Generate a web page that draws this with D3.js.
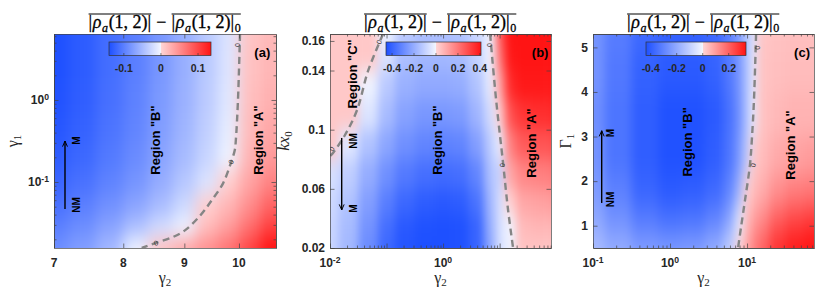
<!DOCTYPE html>
<html><head><meta charset="utf-8">
<script src="https://cdn.jsdelivr.net/npm/d3@7"></script>
<style>body{margin:0;background:#fff}svg{display:block}</style>
</head><body>
<svg id="chart" width="830" height="293"></svg>
<script>
// ---------------- DATA ----------------
// Panel (a): gamma2 (x, log) vs gamma1 (y, log)
const aCols = [7.0, 7.4, 7.8, 8.2, 8.6, 9.0, 9.4, 9.8, 10.2, 10.6];
const aRows = [6.4, 2.5, 1.0, 0.45, 0.2, 0.1, 0.05, 0.028, 0.0157];
const aZ = [
  [-0.140,-0.130,-0.115,-0.100,-0.080,-0.060,-0.038,-0.015,0.012,0.020],
  [-0.140,-0.130,-0.115,-0.100,-0.080,-0.060,-0.038,-0.014,0.013,0.022],
  [-0.138,-0.128,-0.113,-0.098,-0.078,-0.058,-0.036,-0.012,0.015,0.026],
  [-0.135,-0.125,-0.110,-0.095,-0.075,-0.055,-0.033,-0.008,0.018,0.032],
  [-0.130,-0.120,-0.105,-0.090,-0.070,-0.050,-0.028,-0.003,0.024,0.042],
  [-0.122,-0.112,-0.097,-0.082,-0.062,-0.040,-0.016,0.004,0.034,0.058],
  [-0.112,-0.100,-0.085,-0.068,-0.048,-0.024,0.004,0.022,0.050,0.080],
  [-0.100,-0.088,-0.070,-0.045,-0.022,-0.004,0.018,0.040,0.072,0.105],
  [-0.088,-0.074,-0.052,-0.004,0.012,0.030,0.048,0.068,0.100,0.135]
];
const aContour = [[10.02,6.38],[9.98,0.972],[9.94,0.325],[9.92,0.246],[9.85,0.175],[9.70,0.097],[9.49,0.060],[9.28,0.039],[9.01,0.0257],[8.79,0.0211],[8.54,0.0183],[8.29,0.01567]];
const aContourLabels = [[9.98,4.69,-90],[9.85,0.175,-65],[8.52,0.018,-20]];
const aCbarDomain = [-0.14, 0.135];
const aCbarTicks = [-0.1, 0, 0.1];
const aXTicks = [7, 8, 9, 10];
const aYTicks = [0.1, 1];

// Panel (b): gamma2 (x, log) vs k x0 (y, linear)
const bCols = [0.01,0.02,0.05,0.1,0.2,0.5,1,2,4,7,10,15,25,50,81];
const bRows = [0.1647,0.15,0.13,0.11,0.09,0.07,0.05,0.035,0.02];
const bZ = [
  [0.03,0.03,0.03,-0.015,-0.12,-0.15,-0.15,-0.14,-0.09,-0.005,0.26,0.41,0.41,0.41,0.41],
  [0.03,0.03,0.03,-0.05,-0.15,-0.17,-0.17,-0.16,-0.10,-0.01,0.20,0.40,0.41,0.41,0.41],
  [0.03,0.03,-0.01,-0.12,-0.19,-0.21,-0.21,-0.20,-0.14,-0.03,0.10,0.36,0.40,0.40,0.40],
  [0.03,0.03,-0.05,-0.16,-0.23,-0.26,-0.26,-0.25,-0.18,-0.07,0.01,0.28,0.34,0.35,0.36],
  [0.03,-0.04,-0.14,-0.22,-0.28,-0.31,-0.32,-0.31,-0.24,-0.12,-0.02,0.18,0.26,0.27,0.28],
  [-0.06,-0.11,-0.20,-0.28,-0.34,-0.37,-0.38,-0.37,-0.31,-0.15,-0.09,0.10,0.17,0.18,0.19],
  [-0.08,-0.14,-0.24,-0.33,-0.39,-0.42,-0.43,-0.42,-0.36,-0.18,-0.06,0.01,0.10,0.11,0.12],
  [-0.09,-0.16,-0.27,-0.37,-0.43,-0.45,-0.455,-0.45,-0.40,-0.20,-0.06,-0.005,0.06,0.07,0.07],
  [-0.09,-0.17,-0.29,-0.39,-0.44,-0.455,-0.455,-0.45,-0.40,-0.22,-0.06,-0.01,0.04,0.04,0.04]
];
const bContourC = [[0.0867,0.1647],[0.0471,0.1397],[0.0301,0.1133],[0.0184,0.0964],[0.0113,0.0843],[0.01,0.0822]];
const bContourA = [[6.79,0.1647],[8.67,0.1201],[11.5,0.0775],[14.1,0.0457],[17.3,0.02]];
const bContourLabels = [[0.0736,0.1593,-70],[6.52,0.1573,-90],[0.0108,0.0870,-60],[11.1,0.0761,-85]];
const bCbarDomain = [-0.455, 0.41];
const bCbarTicks = [-0.4, -0.2, 0, 0.2, 0.4];
const bXTicks = [0.01, 1];
const bYTicks = [0.02, 0.06, 0.1, 0.14, 0.16];

// Panel (c): gamma2 (x, log) vs Gamma1 (y, linear)
const cCols = [0.1,0.2,0.5,1,2,4,6,8,10,12,15,25,40,74];
const cRows = [5.3,4.5,3.5,2.5,1.8,1.2,0.8,0.5];
const cZ = [
  [-0.26,-0.32,-0.37,-0.39,-0.39,-0.37,-0.31,-0.23,-0.13,-0.04,0.030,0.035,0.040,0.040],
  [-0.26,-0.33,-0.39,-0.41,-0.41,-0.39,-0.33,-0.25,-0.14,-0.03,0.032,0.040,0.045,0.045],
  [-0.27,-0.34,-0.40,-0.43,-0.43,-0.41,-0.35,-0.26,-0.14,-0.02,0.035,0.050,0.060,0.060],
  [-0.26,-0.34,-0.40,-0.43,-0.43,-0.40,-0.34,-0.24,-0.11,0.01,0.045,0.075,0.090,0.100],
  [-0.24,-0.31,-0.38,-0.41,-0.40,-0.37,-0.30,-0.17,0.005,0.04,0.07,0.12,0.15,0.16],
  [-0.21,-0.27,-0.33,-0.36,-0.35,-0.31,-0.23,-0.04,0.04,0.08,0.12,0.19,0.23,0.25],
  [-0.18,-0.23,-0.28,-0.30,-0.29,-0.25,-0.16,-0.01,0.07,0.12,0.17,0.25,0.29,0.31],
  [-0.15,-0.19,-0.23,-0.24,-0.23,-0.19,-0.10,0.02,0.09,0.14,0.20,0.28,0.32,0.333]
];
const cContour = [[13.1,5.3],[12.3,3.82],[11.6,2.99],[10.9,2.36],[9.42,1.58],[8.36,0.97],[7.64,0.5]];
const cContourLabels = [[13.5,4.99,-90],[12.0,2.36,-80]];
const cCbarDomain = [-0.436, 0.333];
const cCbarTicks = [-0.4, -0.2, 0, 0.2];
const cXTicks = [0.1, 1, 10];
const cYTicks = [1, 2, 3, 4, 5];

// annotations (data coordinates)
const aNotes = {arrow:[[7.15,0.0469],[7.15,0.316]], texts:[["M",7.31,0.32,10],["NM",7.31,0.0525,10],['Region "B"',8.51,0.325,13],['Region "A"',10.37,0.325,13]], tag:["(a)",10.46,3.85]};
const bNotes = {arrow:[[0.0161,0.0944],[0.0161,0.0457]], texts:[["NM",0.0255,0.0924,10],["M",0.0255,0.0467,10],['Region "C"',0.0245,0.1377,13],['Region "B"',0.783,0.093,13],['Region "A"',36.1,0.091,13]], tag:["(b)",52.1,0.1526]};
const cNotes = {arrow:[[0.1297,1.51],[0.1297,3.13]], texts:[["M",0.170,3.08,10],["NM",0.170,1.59,10],['Region "B"',1.66,2.88,13],['Region "A"',36.2,2.81,13]], tag:["(c)",51.8,4.90]};

// ---------------- RENDER ----------------
const SANS = "'Liberation Sans', Arial, Helvetica, sans-serif";
const SERIF = "'Liberation Serif', 'Times New Roman', serif";
const BLUE = "#1e50ff", NEG0 = "#f3f6ff", POS0 = "#ffd6d6", RED = "#ff1414";
const svg = d3.select("#chart");
const defs = svg.append("defs");
defs.append("marker").attr("id","arr").attr("viewBox","0 0 10 10").attr("refX",9).attr("refY",5)
  .attr("markerWidth",7).attr("markerHeight",7).attr("orient","auto-start-reverse").attr("markerUnits","userSpaceOnUse")
  .append("path").attr("d","M1,1.5 L9,5 L1,8.5").attr("fill","none").attr("stroke","#000").attr("stroke-width",1.4);

function makeColor(dom){
  const neg = d3.scaleLinear().domain([dom[0],0]).range([BLUE,NEG0]).interpolate(d3.interpolateRgb).clamp(true);
  const pos = d3.scaleLinear().domain([0,dom[1]]).range([POS0,RED]).interpolate(d3.interpolateRgb).clamp(true);
  return v => v < 0 ? neg(v) : pos(v);
}
function bounds(px, lo, hi){
  const idx = d3.range(px.length).sort((i,j)=>px[i]-px[j]);
  const b = new Array(px.length);
  idx.forEach((k,r)=>{
    const l = r===0 ? lo-40 : (px[idx[r-1]]+px[k])/2;
    const h = r===idx.length-1 ? hi+40 : (px[idx[r+1]]+px[k])/2;
    b[k] = [l,h];
  });
  return b;
}
function logLabel(sel, v){
  sel.append("tspan").text("10");
  sel.append("tspan").attr("dy","-0.5em").style("font-size","0.72em").text(String(Math.round(Math.log10(v))));
}

const panels = [
  {id:"a", x:d3.scaleLog().domain([7,10.74]).range([54,276]), y:d3.scaleLog().domain([0.01567,6.38]).range([248,34]),
   cols:aCols, rows:aRows, z:aZ, cdom:aCbarDomain, cticks:aCbarTicks, cbar:[109,211], contours:[aContour], clabels:aContourLabels,
   blur:"7 9", xTicks:aXTicks, xLog:false, xMinor:false, yTicks:aYTicks, yLog:true, yMinor:true, notes:aNotes, ylab:"g1", ylx:18},
  {id:"b", x:d3.scaleLog().domain([0.01,81]).range([330,551]), y:d3.scaleLinear().domain([0.02,0.1647]).range([248,34]),
   cols:bCols, rows:bRows, z:bZ, cdom:bCbarDomain, cticks:bCbarTicks, cbar:[386,481], contours:[bContourC,bContourA], clabels:bContourLabels,
   blur:"4 9", xTicks:bXTicks, xLog:true, xMinor:true, yTicks:bYTicks, yLog:false, yMinor:false, notes:bNotes, ylab:"kx", ylx:289},
  {id:"c", x:d3.scaleLog().domain([0.1,74]).range([593,814]), y:d3.scaleLinear().domain([0.5,5.3]).range([248,34]),
   cols:cCols, rows:cRows, z:cZ, cdom:cCbarDomain, cticks:cCbarTicks, cbar:[646,746], contours:[cContour], clabels:cContourLabels,
   blur:"5 11", xTicks:cXTicks, xLog:true, xMinor:true, yTicks:cYTicks, yLog:false, yMinor:false, notes:cNotes, ylab:"G1", ylx:571}
];

panels.forEach(p=>{
  const [x0,x1] = p.x.range(), [y1,y0] = p.y.range();
  const color = makeColor(p.cdom);
  defs.append("clipPath").attr("id","clip-"+p.id).append("rect").attr("x",x0).attr("y",y0).attr("width",x1-x0).attr("height",y1-y0);
  defs.append("filter").attr("id","blur-"+p.id).attr("filterUnits","userSpaceOnUse")
    .attr("x",x0-60).attr("y",y0-60).attr("width",x1-x0+120).attr("height",y1-y0+120)
    .attr("color-interpolation-filters","sRGB")
    .append("feGaussianBlur").attr("stdDeviation",p.blur);
  const g = svg.append("g").attr("clip-path",`url(#clip-${p.id})`);
  const heat = g.append("g").attr("filter",`url(#blur-${p.id})`);
  const xb = bounds(p.cols.map(p.x), x0, x1);
  const yb = bounds(p.rows.map(p.y), y0, y1);
  const cells = p.rows.flatMap((r,i)=>p.cols.map((c,j)=>({i,j,v:p.z[i][j]})));
  heat.selectAll("rect").data(cells).join("rect")
    .attr("x",d=>xb[d.j][0]).attr("width",d=>xb[d.j][1]-xb[d.j][0]+0.6)
    .attr("y",d=>yb[d.i][0]).attr("height",d=>yb[d.i][1]-yb[d.i][0]+0.6)
    .attr("fill",d=>color(d.v));
  // contours
  const line = d3.line().x(d=>p.x(d[0])).y(d=>p.y(d[1])).curve(d3.curveCatmullRom);
  g.selectAll("path.ct").data(p.contours).join("path").attr("class","ct")
    .attr("d",line).attr("fill","none").attr("stroke","#858585").attr("stroke-width",2.4).attr("stroke-dasharray","7,4.5");
  g.selectAll("text.cl").data(p.clabels).join("text").attr("class","cl")
    .attr("transform",d=>`translate(${p.x(d[0])},${p.y(d[1])}) rotate(${d[2]})`)
    .attr("text-anchor","middle").attr("dy","0.35em")
    .style("font-family",SANS).style("font-size","7px").attr("fill","#333").text("0");

  // axes (inward ticks, box)
  const ax = svg.append("g").attr("class","axes");
  const mk = (axis, tr, vals, size) => {
    const a = ax.append("g").attr("transform",tr).call(axis.tickValues(vals).tickSizeInner(-size).tickSizeOuter(0).tickFormat(""));
    a.select(".domain").attr("stroke","#444").attr("stroke-width",0.7);
    a.selectAll(".tick line").attr("stroke","#444").attr("stroke-width",0.7);
  };
  const isPow = v => Math.abs(Math.log10(v)-Math.round(Math.log10(v)))<1e-9;
  const xMaj = p.xLog ? p.x.ticks().filter(isPow) : p.xTicks;
  const yMaj = p.yLog ? p.y.ticks().filter(isPow) : p.yTicks;
  mk(d3.axisBottom(p.x), `translate(0,${y1})`, xMaj, 4.5);
  mk(d3.axisTop(p.x), `translate(0,${y0})`, xMaj, 4.5);
  mk(d3.axisLeft(p.y), `translate(${x0},0)`, yMaj, 4.5);
  mk(d3.axisRight(p.y), `translate(${x1},0)`, yMaj, 4.5);
  if (p.xMinor){
    const mn = p.x.ticks().filter(v=>!xMaj.includes(v));
    mk(d3.axisBottom(p.x), `translate(0,${y1})`, mn, 2.5);
    mk(d3.axisTop(p.x), `translate(0,${y0})`, mn, 2.5);
  }
  if (p.yMinor){
    const mn = p.y.ticks().filter(v=>!yMaj.includes(v));
    mk(d3.axisLeft(p.y), `translate(${x0},0)`, mn, 2.5);
    mk(d3.axisRight(p.y), `translate(${x1},0)`, mn, 2.5);
  }
  // tick labels
  const tl = svg.append("g").style("font-family",SANS).style("font-weight","bold").style("font-size","12px").attr("fill","#262626");
  p.xTicks.forEach(v=>{
    const t = tl.append("text").attr("x",p.x(v)).attr("y",y1+19).attr("text-anchor","middle");
    if (p.xLog) logLabel(t,v); else t.text(String(v));
  });
  p.yTicks.forEach(v=>{
    const t = tl.append("text").attr("x",x0-5).attr("y",p.y(v)).attr("dy","0.36em").attr("text-anchor","end");
    if (p.yLog) logLabel(t,v); else t.text(String(v));
  });
  // x label
  const xl = svg.append("text").attr("x",(x0+x1)/2).attr("y",283).attr("text-anchor","middle")
    .style("font-family",SERIF).style("font-size","16px").attr("fill","#262626");
  xl.append("tspan").text("γ");
  xl.append("tspan").attr("dy","0.25em").style("font-size","11px").text("2");
  // y label
  const yl = svg.append("text").attr("transform",`translate(${p.ylx},${(y0+y1)/2}) rotate(-90)`)
    .attr("text-anchor","middle").style("font-family",SERIF).style("font-size","16px").attr("fill","#262626");
  if (p.ylab==="g1"){ yl.append("tspan").text("γ"); yl.append("tspan").attr("dy","0.25em").style("font-size","11px").text("1"); }
  if (p.ylab==="kx"){ yl.append("tspan").style("font-style","italic").text("kx"); yl.append("tspan").attr("dy","0.25em").style("font-size","11px").text("0"); }
  if (p.ylab==="G1"){ yl.append("tspan").text("Γ"); yl.append("tspan").attr("dy","0.25em").style("font-size","11px").text("1"); }

  // colorbar
  const cs = d3.scaleLinear().domain(p.cdom).range(p.cbar);
  const f0 = (cs(0)-p.cbar[0])/(p.cbar[1]-p.cbar[0]);
  const gr = defs.append("linearGradient").attr("id","grad-"+p.id).attr("x1",0).attr("x2",1).attr("y1",0).attr("y2",0);
  [[0,color(p.cdom[0])],[f0,NEG0],[f0,POS0],[1,color(p.cdom[1])]].forEach(s=>gr.append("stop").attr("offset",s[0]).attr("stop-color",s[1]));
  svg.append("rect").attr("x",p.cbar[0]).attr("y",42).attr("width",p.cbar[1]-p.cbar[0]).attr("height",13.5)
    .attr("fill",`url(#grad-${p.id})`).attr("stroke","#333").attr("stroke-width",0.7);
  const cb = svg.append("g").style("font-family",SANS).style("font-weight","bold").style("font-size","10.5px").attr("fill","#262626");
  p.cticks.forEach(v=>{
    cb.append("line").attr("x1",cs(v)).attr("x2",cs(v)).attr("y1",55.5).attr("y2",53).attr("stroke","#333").attr("stroke-width",0.6);
    cb.append("text").attr("x",cs(v)).attr("y",72).attr("text-anchor","middle").text(v===0?"0":String(v));
  });

  // annotations
  const n = p.notes;
  svg.append("line").attr("x1",p.x(n.arrow[0][0])).attr("y1",p.y(n.arrow[0][1]))
    .attr("x2",p.x(n.arrow[1][0])).attr("y2",p.y(n.arrow[1][1]))
    .attr("stroke","#000").attr("stroke-width",1.4).attr("marker-end","url(#arr)");
  n.texts.forEach(t=>{
    svg.append("text").attr("transform",`translate(${p.x(t[1])},${p.y(t[2])}) rotate(-90)`)
      .attr("text-anchor","middle").attr("dy","0.36em")
      .style("font-family",SANS).style("font-weight","bold").style("font-size",t[3]+"px").attr("fill","#000").text(t[0]);
  });
  svg.append("text").attr("x",p.x(n.tag[1])).attr("y",p.y(n.tag[2])).attr("dy","0.36em").attr("text-anchor","middle")
    .style("font-family",SANS).style("font-weight","bold").style("font-size","13px").attr("fill","#000").text(n.tag[0]);

  // title with overlines
  const tg = svg.append("g").style("font-family",SERIF).attr("fill","#000").attr("stroke","#000").attr("stroke-width",0.3);
  const parts = [{t:"|"},{t:"ρ",i:1},{t:"a",i:1,s:1},{t:"(1, 2)|"},{t:" − "},{t:"|"},{t:"ρ",i:1},{t:"a",i:1,s:1},{t:"(1, 2)|"},{t:"0",s:1}];
  let xx = 0;
  parts.forEach(q=>{
    const t = tg.append("text").attr("x",xx).attr("y",q.s?4:0).style("font-size",q.s?"12px":"18px")
      .style("font-style",q.i?"italic":"normal").text(q.t).attr("xml:space","preserve").style("white-space","pre");
    q.x = xx; q.w = t.node().getComputedTextLength(); xx += q.w + 0.6;
  });
  const total = xx;
  [[0,3],[5,9]].forEach(([a,b])=>{
    tg.append("line").attr("x1",parts[a].x).attr("x2",parts[b].x+parts[b].w).attr("y1",-14).attr("y2",-14)
      .attr("stroke","#000").attr("stroke-width",1);
  });
  tg.attr("transform",`translate(${(x0+x1)/2-total/2},28)`);
});
</script>
</body></html>
